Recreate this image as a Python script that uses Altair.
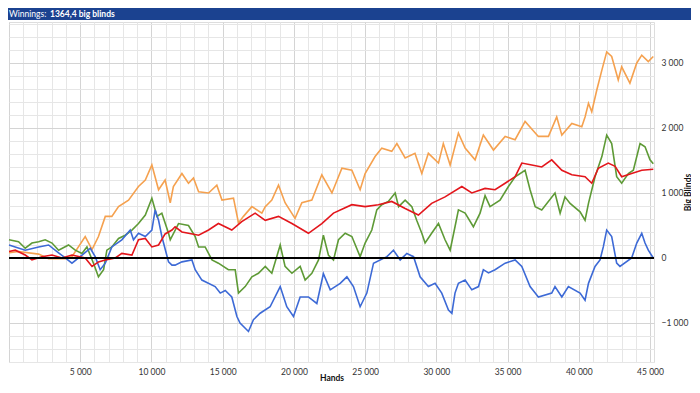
import altair as alt
import pandas as pd

# ---------------- data ----------------
orange_hands = [0, 670, 2080, 2780, 3950, 4420, 5350, 5830, 6280, 6760,
                7220, 7690, 8390, 9090, 9570, 10030, 10500, 10960, 11320, 11540,
                12140, 12600, 12950, 13310, 14010, 14590, 14950, 15760, 16110, 16460,
                17050, 17750, 17990, 18450, 18920, 19380, 20080, 20560, 21260, 21960,
                22670, 23370, 24070, 24650, 25000, 25700, 26170, 26870, 27230, 27810,
                28500, 28980, 29440, 30150, 30490, 30970, 31550, 32020, 32720, 33300,
                34010, 34830, 35530, 36230, 37160, 37870, 38450, 38810, 39510, 40210,
                40440, 40680, 40910, 41260, 41620, 41960, 42310, 42770, 43010, 43590,
                44070, 44420, 44880, 45230]
orange_bb = [80, 100, 60, -10, -10, 20, 330, 130, 330, 640,
             640, 790, 890, 1100, 1200, 1430, 1050, 1200, 850, 1100,
             1300, 1150, 1230, 1020, 1000, 1120, 890, 920, 540, 640,
             790, 690, 790, 890, 1120, 850, 610, 850, 890, 1280,
             1000, 1380, 1350, 1050, 1300, 1560, 1690, 1640, 1760, 1540,
             1610, 1300, 1610, 1460, 1760, 1430, 1920, 1690, 1510, 1890,
             1660, 1870, 1820, 2100, 1870, 1870, 2170, 1890, 2070, 2020,
             2170, 2380, 2250, 2580, 2890, 3170, 3100, 2740, 2940, 2690,
             3000, 3120, 3020, 3100]

red_hands = [0, 440, 1140, 1610, 2310, 3020, 3720, 4420, 5350, 5830,
             6280, 6760, 7460, 7920, 8630, 9090, 9570, 10030, 10500, 10960,
             11440, 11660, 12140, 12600, 13310, 14010, 14700, 15640, 16340, 17280,
             17990, 18920, 19860, 21020, 21960, 22780, 24070, 25000, 25930, 26870,
             27810, 28740, 29670, 30610, 31790, 32490, 33420, 34120, 34830, 35530,
             36000, 36700, 37400, 38100, 38810, 39510, 40440, 40910, 41370, 42070,
             42550, 43010, 43710, 44420, 45230]
red_bb = [100, 120, 45, -30, 20, 45, 0, 45, 0, -130,
          -60, -30, 0, 70, 45, 280, 300, 170, 200, 370,
          430, 480, 400, 380, 350, 430, 530, 430, 560, 690,
          580, 640, 530, 380, 530, 690, 820, 790, 820, 870,
          760, 660, 840, 940, 1100, 1000, 1070, 1050, 1150, 1250,
          1460, 1430, 1400, 1510, 1350, 1280, 1250, 1150, 1380, 1460,
          1410, 1250, 1300, 1350, 1364]

green_hands = [0, 670, 1140, 1610, 2080, 2540, 3020, 3480, 4180, 4650,
               5120, 5470, 5930, 6280, 6640, 6870, 7220, 7690, 8160, 8630,
               9090, 9570, 10030, 10390, 10730, 11200, 11320, 11900, 12600, 13070,
               13310, 13770, 14250, 14700, 15400, 15880, 16110, 16580, 17050, 17510,
               17990, 18450, 19040, 19380, 19860, 20440, 20790, 21260, 21730, 22070,
               22430, 22780, 23130, 23600, 24070, 24650, 25000, 25470, 25820, 26170,
               26630, 27110, 27350, 27810, 28280, 28620, 28980, 29210, 29670, 30150,
               30610, 30970, 31310, 31550, 32020, 32600, 33070, 33420, 33770, 34470,
               35060, 35530, 36230, 36580, 36940, 37400, 38330, 38690, 39030, 39390,
               40090, 40440, 40680, 41140, 41620, 41960, 42310, 42660, 43010, 43480,
               43830, 44300, 44650, 45000, 45230]
green_bb = [280, 250, 150, 230, 250, 280, 230, 120, 200, 120,
            70, 170, -80, -290, -180, 120, 170, 300, 350, 430,
            530, 660, 920, 640, 690, 380, 280, 530, 500, 330,
            170, 170, -30, -80, -180, -180, -540, -440, -290, -235,
            -130, -235, 200, -130, -235, -130, -340, -235, -30, 350,
            40, -30, 280, 380, 330, 20, 230, 430, 740, 820,
            870, 1000, 790, 890, 790, 580, 380, 230, 380, 530,
            280, 120, 480, 740, 690, 480, 690, 960, 790, 890,
            1100, 1250, 1350, 1050, 790, 740, 1000, 690, 940, 840,
            710, 580, 840, 1250, 1560, 1890, 1760, 1250, 1150, 1300,
            1350, 1760, 1710, 1510, 1450]

blue_hands = [0, 1140, 2080, 2780, 3480, 3950, 4420, 4890, 5710, 6050,
              6400, 6760, 7220, 7920, 8510, 8740, 9090, 9570, 10030, 10260,
              10500, 10730, 11200, 11440, 11660, 12140, 12840, 13070, 13540, 14470,
              14830, 15180, 15640, 16000, 16220, 16810, 17160, 17630, 18330, 19040,
              19500, 19970, 20440, 21020, 21610, 22070, 22550, 23250, 23720, 24180,
              24650, 25120, 25590, 26530, 26990, 27460, 27930, 28400, 28860, 29440,
              29910, 30380, 30850, 31090, 31310, 31550, 32020, 32490, 32960, 33300,
              33660, 34120, 34830, 35530, 36000, 36580, 36940, 37160, 38100, 38330,
              38810, 39270, 40090, 40440, 40680, 41140, 41490, 41720, 41960, 42310,
              42660, 42890, 43710, 44070, 44420, 44650, 44880, 45230]
blue_bb = [200, 120, 170, 200, 80, 0, -80, 0, 150, 20,
           -180, -80, 170, 280, 430, 280, 380, 330, 430, 740,
           580, 330, -60, -110, -110, -60, -30, -180, -340, -440,
           -540, -500, -600, -900, -1000, -1130, -950, -850, -750, -440,
           -750, -900, -600, -600, -700, -240, -490, -390, -290, -440,
           -750, -540, -80, 20, 120, -30, 70, 20, -290, -440,
           -390, -540, -800, -850, -540, -390, -340, -490, -440, -180,
           -230, -180, -80, -30, -130, -440, -540, -600, -540, -440,
           -600, -440, -540, -650, -390, -130, -30, 170, 430, 330,
           -80, -130, 0, 230, 380, 230, 120, 0]

series_names = ["orange", "green", "blue", "red"]
series_colors = ["#F5A14F", "#5E9A36", "#3D6AD6", "#E3161C"]
series_hands = [orange_hands, green_hands, blue_hands, red_hands]
series_bb = [orange_bb, green_bb, blue_bb, red_bb]

x_ticks = list(range(0, 45001, 1000))
y_ticks = list(range(-1600, 3601, 200))

title_a = "Winnings:"
title_b = "1364,4 big blinds"

# ---------------- build table ----------------
rows = []
for name, hs, vs in zip(series_names, series_hands, series_bb):
    if len(hs) != len(vs):
        raise ValueError(f"length mismatch in {name}: {len(hs)} vs {len(vs)}")
    for h, v in zip(hs, vs):
        rows.append({"series": name, "hands": h, "bb": v})
df = pd.DataFrame(rows)

FONT = "Lato"

x_enc = alt.X(
    "hands:Q",
    scale=alt.Scale(domain=[0, 45280], nice=False, zero=False),
    axis=alt.Axis(
        values=x_ticks,
        labelExpr="datum.value % 5000 === 0 && datum.value > 0 ? replace(format(datum.value, ','), ',', ' ') : ''",
        grid=True,
        gridColor={"condition": {"test": "datum.value % 5000 === 0", "value": "#d4d4d4"}, "value": "#e6e6e6"},
        ticks=False, tickSize=0, domain=False,
        labelOverlap=False, labelFlush=False,
        labelFont=FONT, labelFontSize=8.5, labelColor="#333333", labelPadding=5,
        title="Hands", titleFont=FONT, titleFontSize=8.5, titleFontWeight="bold",
        titleColor="#111111", titleY=18, titleBaseline="alphabetic",
    ),
)
y_enc = alt.Y(
    "bb:Q",
    scale=alt.Scale(domain=[-1600, 3630], nice=False, zero=False),
    axis=alt.Axis(
        orient="right",
        values=y_ticks,
        labelExpr="datum.value % 1000 === 0 ? replace(format(datum.value, ','), ',', ' ') : ''",
        grid=True,
        gridColor={"condition": {"test": "datum.value % 1000 === 0", "value": "#d4d4d4"}, "value": "#e6e6e6"},
        ticks=False, tickSize=0, domain=False,
        labelOverlap=False, labelFlush=False,
        labelFont=FONT, labelFontSize=8.5, labelColor="#333333", labelPadding=7,
        title="Big Blinds", titleFont=FONT, titleFontSize=8.5, titleFontWeight="bold",
        titleColor="#111111", titleAngle=270, titleX=33, titleY=170,
        titleAlign="center", titleBaseline="middle",
    ),
)

base = alt.Chart(df)
layers = []
for name, col in zip(series_names, series_colors):
    layers.append(
        base.transform_filter(alt.datum.series == name)
        .mark_line(color=col, strokeWidth=1.6)
        .encode(x=x_enc, y=y_enc)
    )

zero_rule = (
    alt.Chart(pd.DataFrame({"bb": [0]}))
    .mark_rule(color="#000000", strokeWidth=2)
    .encode(y=y_enc)
)

one = pd.DataFrame({"k": [0]})
header = alt.Chart(one).mark_rect(color="#1B4290").encode(
    x=alt.value(-1), x2=alt.value(683), y=alt.value(-14), y2=alt.value(-2)
)
header_a = alt.Chart(one).mark_text(
    align="left", baseline="middle", font=FONT, fontSize=8.5, color="#ffffff"
).encode(x=alt.value(0), y=alt.value(-8), text=alt.value(title_a))
header_b = alt.Chart(one).mark_text(
    align="left", baseline="middle", font=FONT, fontSize=8.5, fontWeight="bold", color="#ffffff"
).encode(x=alt.value(41), y=alt.value(-8), text=alt.value(title_b))

chart = (
    alt.layer(*layers, zero_rule, header, header_a, header_b)
    .properties(
        width=645,
        height=340,
        padding={"left": 1, "top": 14, "right": 37, "bottom": 19},
        autosize=alt.AutoSizeParams(type="none"),
    )
    .configure_view(stroke="#c8c8c8", strokeWidth=1)
    .configure(background="#ffffff")
)

chart.save("out.html", embed_options={"renderer": "svg", "actions": False})
